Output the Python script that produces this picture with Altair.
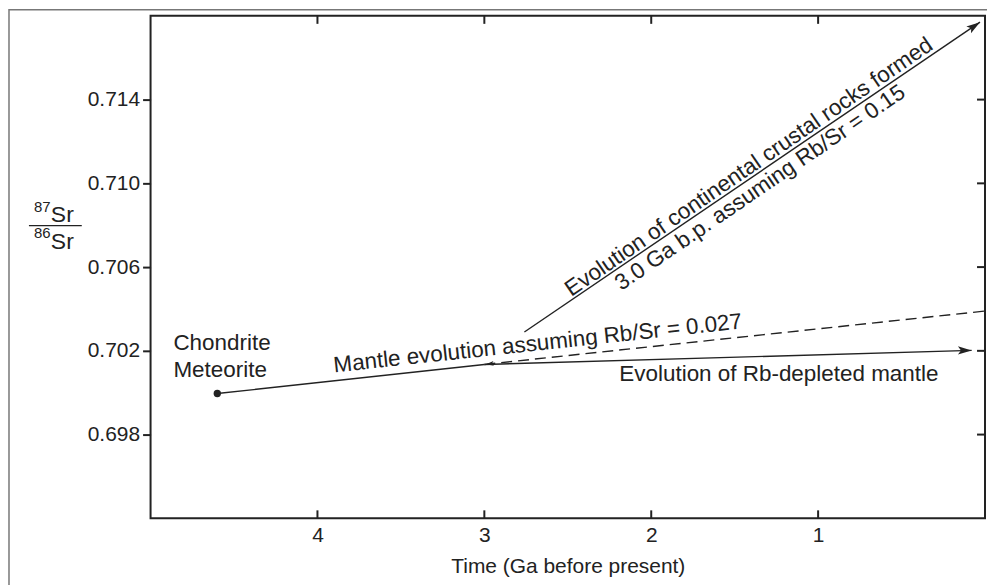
import altair as alt
import pandas as pd

# ---------------- data ----------------
x_tick_values = [4, 3, 2, 1]
y_tick_values = [0.698, 0.702, 0.706, 0.710, 0.714]

chondrite_age = [4.6]
chondrite_ratio = [0.69996]

mantle_age = [4.6, 3.0]
mantle_ratio = [0.69996, 0.70135]

depleted_age = [3.0, 0.08]
depleted_ratio = [0.70135, 0.70202]

dashed_age = [3.0, 0.0]
dashed_ratio = [0.70135, 0.7039]

crust_age = [2.76, 0.03]
crust_ratio = [0.7029, 0.7177]

arrow_age = [0.03, 0.08]
arrow_ratio = [0.7177, 0.70202]
arrow_angle = [325.6, 0]

small_arrow_age = [2.99]
small_arrow_ratio = [0.70136]

left_labels = ["Chondrite", "Meteorite"]
left_label_age = [4.863, 4.863]
left_label_ratio = [0.70235, 0.70106]

center_labels = [
    "Mantle evolution assuming Rb/Sr = 0.027",
    "Evolution of Rb-depleted mantle",
    "Evolution of continental crustal rocks formed",
    "3.0 Ga b.p. assuming Rb/Sr = 0.15",
]
center_label_age = [2.68, 1.235, 1.415, 1.348]
center_label_ratio = [0.70235, 0.70087, 0.71078, 0.7098]
center_label_angle = [353.85, 0, 325.6, 325.6]

# ---------------- styling ----------------
FONT = "Liberation Sans"
INK = "#222222"
W, H = 837, 504
FS = 22.5

xs = alt.Scale(domain=[0, 5], reverse=True, nice=False, zero=False)
ys = alt.Scale(domain=[0.694, 0.718], nice=False, zero=False)

x_axis = alt.Axis(
    values=x_tick_values, format="d", ticks=False, domain=False, grid=False,
    labelPadding=6, labelFontSize=21, labelFont=FONT, labelColor=INK,
    title="Time (Ga before present)", titleFont=FONT, titleFontSize=21,
    titleFontWeight="normal", titleColor=INK, titlePadding=10)
y_axis = alt.Axis(
    values=y_tick_values, format=".3f", tickSize=8, tickWidth=2, tickColor=INK,
    domain=False, grid=False, labelPadding=3, labelFontSize=21,
    labelFont=FONT, labelColor=INK, title=None)

X = lambda: alt.X("age:Q", scale=xs, axis=x_axis)
Y = lambda: alt.Y("ratio:Q", scale=ys, axis=y_axis)

ARROW = "M0,0L-2,-0.6L-1.55,0L-2,0.6Z"

def line_layer(ax, ry, dash=None):
    df = pd.DataFrame({"age": ax, "ratio": ry})
    kw = dict(color=INK, strokeWidth=1.4)
    if dash:
        kw["strokeDash"] = dash
    return alt.Chart(df).mark_line(**kw).encode(x=X(), y=Y())

mantle = line_layer(mantle_age, mantle_ratio)
depleted = line_layer(depleted_age, depleted_ratio)
dashed = line_layer(dashed_age, dashed_ratio, dash=[11, 6])
crust = line_layer(crust_age, crust_ratio)

dot = alt.Chart(pd.DataFrame({"age": chondrite_age, "ratio": chondrite_ratio})).mark_point(
    filled=True, color=INK, size=55, opacity=1, shape="circle"
).encode(x=X(), y=Y())

arrows = alt.Chart(pd.DataFrame({"age": arrow_age, "ratio": arrow_ratio, "angle": arrow_angle})).mark_point(
    filled=True, color=INK, size=190, opacity=1, shape=ARROW
).encode(x=X(), y=Y(), angle=alt.Angle("angle:Q", scale=None))

small_arrow = alt.Chart(pd.DataFrame({"age": small_arrow_age, "ratio": small_arrow_ratio})).mark_point(
    filled=True, color=INK, size=60, opacity=1, shape=ARROW, angle=174
).encode(x=X(), y=Y())

left_text = alt.Chart(pd.DataFrame({"age": left_label_age, "ratio": left_label_ratio, "t": left_labels})).mark_text(
    align="left", baseline="middle", font=FONT, fontSize=FS, color=INK
).encode(x=X(), y=Y(), text="t:N")

center_text = alt.Chart(pd.DataFrame({
    "age": center_label_age, "ratio": center_label_ratio,
    "t": center_labels, "angle": center_label_angle})).mark_text(
    align="center", baseline="middle", font=FONT, fontSize=FS, color=INK
).encode(x=X(), y=Y(), text="t:N", angle=alt.Angle("angle:Q", scale=None))

# mirrored / inward ticks
xt = pd.DataFrame({"age": x_tick_values})
yt = pd.DataFrame({"ratio": y_tick_values})
top_ticks = alt.Chart(xt).mark_rule(color=INK, strokeWidth=2).encode(
    x=X(), y=alt.value(0), y2=alt.value(8))
bottom_ticks = alt.Chart(xt).mark_rule(color=INK, strokeWidth=2).encode(
    x=X(), y=alt.value(H - 8), y2=alt.value(H))
right_ticks = alt.Chart(yt).mark_rule(color=INK, strokeWidth=2).encode(
    y=Y(), x=alt.value(W - 8), x2=alt.value(W))

# y-axis title as a stacked fraction
one = pd.DataFrame({"k": [0]})
def txt(s, x, y, size, align="left"):
    return alt.Chart(one).mark_text(text=s, align=align, baseline="alphabetic", font=FONT,
                                    fontSize=size, color=INK).encode(x=alt.value(x), y=alt.value(y))
frac = (
    txt("87", -117, 197, 15) + txt("Sr", -100, 207, 23)
    + txt("86", -117, 223, 15) + txt("Sr", -100, 234, 23)
    + alt.Chart(one).mark_rule(color=INK, strokeWidth=1.2).encode(
        x=alt.value(-122), x2=alt.value(-69), y=alt.value(210.5))
)

# outer figure border
border = (
    alt.Chart(one).mark_rule(color="#777777", strokeWidth=1.5).encode(
        x=alt.value(-142), y=alt.value(-7), y2=alt.value(575))
    + alt.Chart(one).mark_rule(color="#777777", strokeWidth=1.5).encode(
        x=alt.value(-142), x2=alt.value(W + 8), y=alt.value(-6.2))
)

chart = alt.layer(
    mantle, depleted, dashed, crust, dot, arrows, small_arrow,
    left_text, center_text, top_ticks, bottom_ticks, right_ticks, frac, border
).properties(
    width=W, height=H,
    background="white",
    autosize=alt.AutoSizeParams(type="none"),
    padding={"left": 143, "top": 7, "right": 2, "bottom": 68},
).configure_view(
    stroke=INK, strokeWidth=2
)

chart.save("out.html", embed_options={"renderer": "svg", "actions": False})
